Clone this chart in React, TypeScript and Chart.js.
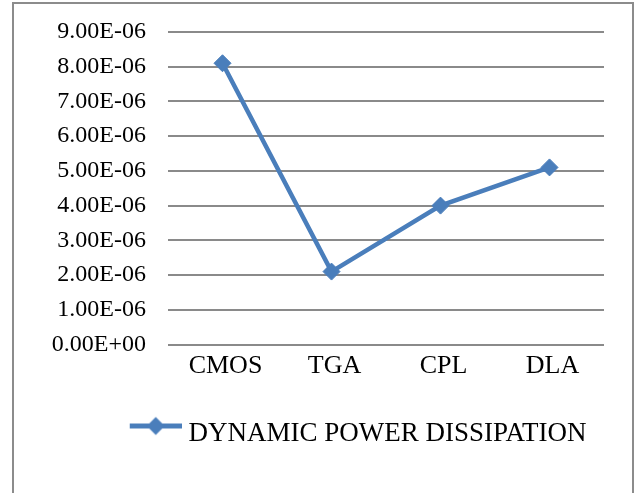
import React, { useEffect, useRef } from "react";
import { Chart, registerables } from "chart.js";

Chart.register(...registerables);

const categories = ["CMOS", "TGA", "CPL", "DLA"];
const seriesLabel = "DYNAMIC POWER DISSIPATION";
const powerValues = [8.1e-6, 2.1e-6, 4.0e-6, 5.1e-6];
const yTickLabels = [
  "0.00E+00",
  "1.00E-06",
  "2.00E-06",
  "3.00E-06",
  "4.00E-06",
  "5.00E-06",
  "6.00E-06",
  "7.00E-06",
  "8.00E-06",
  "9.00E-06",
];

const BLUE = "#4a7ebb";
const SERIF = "'Liberation Serif', 'Times New Roman', serif";

// legend marker: line + diamond, drawn in an image that extends left of the label box
const LEG_BOX = 117.5;
const LEG_W = 131;
const LEG_H = 40;

function makeLegendImage(): HTMLCanvasElement {
  const c = document.createElement("canvas");
  c.width = LEG_W;
  c.height = LEG_H;
  const ctx = c.getContext("2d")!;
  const cy = LEG_H / 2 - 7.5;
  const x1 = LEG_W - 52;
  const x2 = LEG_W;
  ctx.strokeStyle = BLUE;
  ctx.lineWidth = 5;
  ctx.beginPath();
  ctx.moveTo(x1, cy);
  ctx.lineTo(x2, cy);
  ctx.stroke();
  ctx.fillStyle = BLUE;
  const cx = (x1 + x2) / 2;
  const r = 9;
  ctx.beginPath();
  ctx.moveTo(cx, cy - r);
  ctx.lineTo(cx + r, cy);
  ctx.lineTo(cx, cy + r);
  ctx.lineTo(cx - r, cy);
  ctx.closePath();
  ctx.fill();
  return c;
}

export default function App() {
  const ref = useRef<HTMLCanvasElement | null>(null);

  useEffect(() => {
    if (!ref.current) return;
    const legendImg = makeLegendImage();
    const chart = new Chart(ref.current, {
      type: "line",
      data: {
        labels: categories,
        datasets: [
          {
            label: seriesLabel,
            data: powerValues,
            borderColor: BLUE,
            backgroundColor: BLUE,
            borderWidth: 4.5,
            pointStyle: "rectRot",
            pointRadius: 8.5,
            pointBorderWidth: 1,
            pointBackgroundColor: BLUE,
            pointBorderColor: BLUE,
            tension: 0,
          },
        ],
      },
      options: {
        responsive: false,
        animation: false,
        layout: { padding: { top: 32, right: 33, left: 40, bottom: 36 } },
        scales: {
          x: {
            type: "category",
            offset: true,
            grid: { display: false, drawTicks: false },
            border: { display: false },
            ticks: {
              color: "#000",
              padding: 6,
              labelOffset: 3,
              maxRotation: 0,
              font: { family: SERIF, size: 26 },
            },
            afterFit: (scale: any) => {
              scale.height = 65.5;
            },
          },
          y: {
            min: 0,
            max: 9e-6,
            ticks: {
              stepSize: 1e-6,
              color: "#000",
              padding: 22,
              font: { family: SERIF, size: 24 },
              callback: (_v: any, i: number) => yTickLabels[i],
            },
            grid: { color: "#8a8a8a", lineWidth: 2, drawTicks: false },
            border: { display: false },
            afterFit: (scale: any) => {
              scale.width = 128;
              scale.paddingTop = 0;
              scale.paddingBottom = 0;
            },
          },
        },
        plugins: {
          tooltip: { enabled: false },
          legend: {
            display: true,
            position: "bottom",
            labels: {
              color: "#000",
              usePointStyle: true,
              pointStyleWidth: LEG_BOX,
              boxHeight: 27,
              padding: 10,
              font: { family: SERIF, size: 27 },
              generateLabels: () => [
                {
                  text: seriesLabel,
                  pointStyle: legendImg as any,
                  fillStyle: BLUE,
                  strokeStyle: BLUE,
                  lineWidth: 0,
                  hidden: false,
                  datasetIndex: 0,
                  fontColor: "#000",
                } as any,
              ],
            },
          },
        },
      },
    });
    return () => chart.destroy();
  }, []);

  return (
    <>
      <div
        style={{
          position: "absolute",
          left: 0,
          top: 0,
          width: 637,
          height: 493,
          background: "#fff",
        }}
      >
        <canvas ref={ref} width={637} height={493} style={{ width: 637, height: 493, display: "block" }} />
      </div>
      <div
        style={{
          position: "absolute",
          left: 12,
          top: 2,
          width: 622,
          height: 491,
          boxSizing: "border-box",
          borderTop: "2px solid #8c8c8c",
          borderLeft: "2px solid #8c8c8c",
          borderRight: "2px solid #8c8c8c",
          pointerEvents: "none",
        }}
      />
    </>
  );
}
